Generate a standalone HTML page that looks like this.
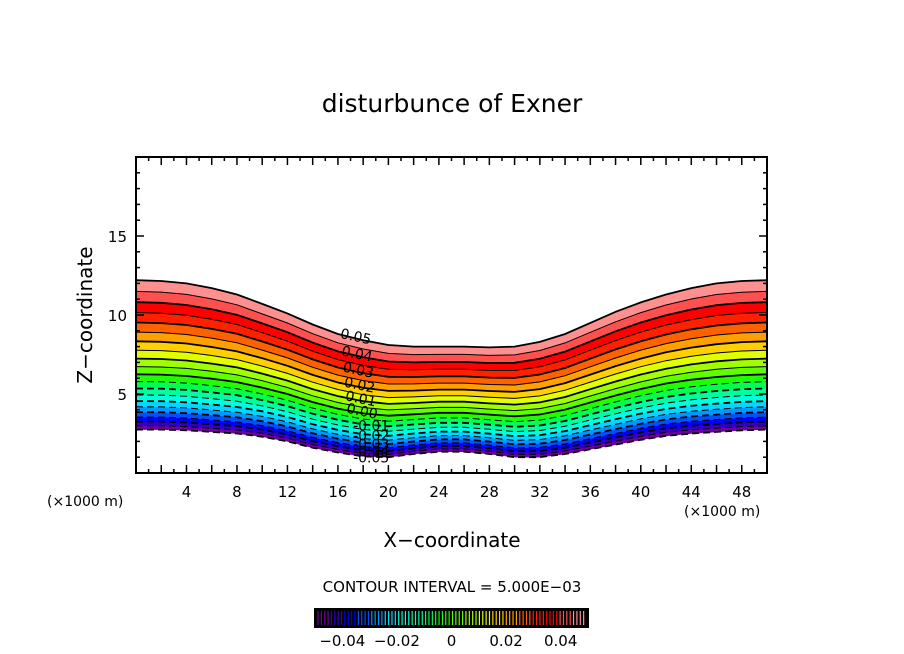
<!DOCTYPE html>
<html><head><meta charset="utf-8"><style>
html,body{margin:0;padding:0;background:#fff;}
svg{display:block;font-family:"DejaVu Sans","Liberation Sans",sans-serif;}
</style></head><body>
<svg id="chart" width="904" height="654" viewBox="0 0 904 654" xmlns="http://www.w3.org/2000/svg">
<text x="452" y="112" text-anchor="middle" font-size="25">disturbunce of Exner</text>
<g id="bands"></g>
<g id="lines"></g>
<g id="clabels" font-size="14"></g>
<rect x="136" y="157" width="631" height="316" fill="none" stroke="#000" stroke-width="2"/>
<g id="ticks" stroke="#000" stroke-width="1.5"></g>
<g id="xtl" font-size="15" text-anchor="middle"></g>
<g id="ytl" font-size="15" text-anchor="end"></g>
<text x="47" y="506" font-size="14">(×1000 m)</text>
<text x="684" y="516" font-size="14">(×1000 m)</text>
<text x="452" y="547" text-anchor="middle" font-size="20">X−coordinate</text>
<text transform="translate(92,315) rotate(-90)" text-anchor="middle" font-size="20">Z−coordinate</text>
<text x="452" y="592" text-anchor="middle" font-size="15">CONTOUR INTERVAL = 5.000E−03</text>
<g id="cbar"></g>
<g id="cbl" font-size="15" text-anchor="middle"></g>
</svg>
<script>
const xs=[0,2,4,6,8,10,12,14,16,18,20,22,24,26,28,30,32,34,36,38,40,42,44,46,48,50];
const topZ=[12.2,12.15,12.0,11.7,11.3,10.7,10.1,9.4,8.8,8.4,8.1,8.0,8.0,8.0,7.95,8.0,8.3,8.8,9.5,10.2,10.8,11.3,11.7,12.0,12.15,12.2];
const botZ=[2.75,2.75,2.7,2.6,2.5,2.3,2.0,1.6,1.3,1.05,1.0,1.2,1.35,1.35,1.2,1.0,1.0,1.2,1.5,1.8,2.1,2.35,2.5,2.6,2.7,2.75];
const levels=[-0.05,-0.045,-0.04,-0.035,-0.03,-0.025,-0.02,-0.015,-0.01,-0.005,0,0.005,0.01,0.015,0.02,0.025,0.03,0.035,0.04,0.045,0.05];
const bandColors=["#7000a0","#3000c8","#0000ff","#0050ff","#0098ff","#00d8ff","#00ffe0","#00ffa0","#00ff50","#20ff00","#60ff00","#a0ff00","#e0ff00","#ffd000","#ffa000","#ff6000","#ff2000","#ff0000","#ff5050","#ff9090"];
const xTicks=[4,8,12,16,20,24,28,32,36,40,44,48];
const yTicks=[5,10,15];
const cbTicks=[-0.04,-0.02,0,0.02,0.04];
const cbTickText=["−0.04","−0.02","0","0.02","0.04"];
const NS="http://www.w3.org/2000/svg";
const X0=136,X1=767,Y0=473,Y1=157,XMAX=50,ZMAX=20;
const sx=x=>X0+(X1-X0)*x/XMAX;
const sz=z=>Y0-(Y0-Y1)*z/ZMAX;
function frac(v){const t=(v+0.05)/0.1;return 0.48*t+0.52*t*t;}
function curve(v){return xs.map((x,i)=>[sx(x),sz(botZ[i]+frac(v)*(topZ[i]-botZ[i]))]);}
function mk(tag,attrs,parent){const e=document.createElementNS(NS,tag);for(const k in attrs)e.setAttribute(k,attrs[k]);parent.appendChild(e);return e;}
function pstr(pts){return pts.map((p,i)=>(i?"L":"M")+p[0].toFixed(1)+" "+p[1].toFixed(1)).join(" ");}
const bands=document.getElementById('bands'),lines=document.getElementById('lines');
for(let i=0;i<levels.length-1;i++){
  const a=curve(levels[i]),b=curve(levels[i+1]).reverse();
  const p=mk('path',{d:pstr(a)+" "+pstr(b).replace(/^M/,"L")+" Z",fill:bandColors[i],stroke:bandColors[i],'stroke-width':0.5},bands);
  
  
}
levels.forEach((v,i)=>{
  const attrs={d:pstr(curve(v)),fill:'none',stroke:'#000','stroke-width':(i%2===0)?1.8:1};
  if(v<-1e-9)attrs['stroke-dasharray']='7 4';
  const p=mk('path',attrs,lines);
  
  
});
const cl=document.getElementById('clabels');
[0.05,0.04,0.03,0.02,0.01,0].forEach((v,k)=>{
  const x=16.2+k*0.1;const xi=8;
  const z=botZ[xi]+frac(v)*(topZ[xi]-botZ[xi]);
  const t=mk('text',{x:sx(x),y:sz(z)+4,transform:`rotate(12 ${sx(x)} ${sz(z)})`},cl);
  t.textContent=v.toFixed(2);
  
  
});
[-0.01,-0.02,-0.03,-0.04,-0.05].forEach(v=>{
  const xi=9;const z=botZ[xi]+frac(v)*(topZ[xi]-botZ[xi]);
  const t=mk('text',{x:sx(17.2),y:sz(z)+6},cl);
  t.textContent=v.toFixed(2);
  
  
});
const tk=document.getElementById('ticks');
for(let x=1;x<XMAX;x++){const L=x%2===0?8:4;
  mk('line',{x1:sx(x),x2:sx(x),y1:Y0,y2:Y0-L},tk);mk('line',{x1:sx(x),x2:sx(x),y1:Y1,y2:Y1+L},tk);}
for(let z=1;z<ZMAX;z++){const L=z%5===0?8:4;
  mk('line',{x1:X0,x2:X0+L,y1:sz(z),y2:sz(z)},tk);mk('line',{x1:X1,x2:X1-L,y1:sz(z),y2:sz(z)},tk);}
const xtl=document.getElementById('xtl');
xTicks.forEach(x=>{const t=mk('text',{x:sx(x),y:497},xtl);t.textContent=x;
  });
const ytl=document.getElementById('ytl');
yTicks.forEach(z=>{const t=mk('text',{x:127,y:sz(z)+6},ytl);t.textContent=z;
  });
const cb=document.getElementById('cbar');
const CB0=315,CB1=588,CBY=609,CBH=18;
mk('rect',{x:CB0,y:CBY,width:CB1-CB0,height:CBH,fill:'#000'},cb);
const cbx=v=>CB0+(CB1-CB0)*(v+0.05)/0.1;
for(let i=0;i<bandColors.length;i++){
  for(let k=0;k<4;k++){const xx=CB0+3+((CB1-CB0-4)/bandColors.length)*(i+k/4);
    mk('line',{x1:xx,x2:xx,y1:CBY+2,y2:CBY+CBH-2,stroke:bandColors[i],'stroke-width':1.2},cb);}
}
mk('rect',{x:CB0,y:CBY,width:CB1-CB0,height:CBH,fill:'none',stroke:'#000','stroke-width':2},cb);
const cbl=document.getElementById('cbl');
cbTicks.forEach((v,i)=>{const t=mk('text',{x:cbx(v),y:646},cbl);t.textContent=cbTickText[i];
  });
</script>
</body></html>
